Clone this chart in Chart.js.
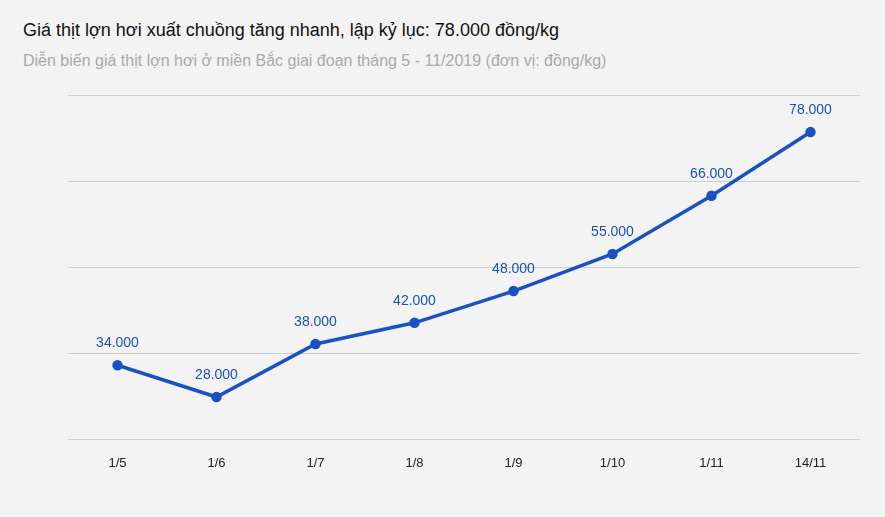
<!DOCTYPE html>
<html><head><meta charset="utf-8">
<script src="https://cdn.jsdelivr.net/npm/chart.js@4"></script>
<style>
html,body{margin:0;padding:0;background:#f3f3f3;font-family:Arial,"Liberation Sans",sans-serif;}
#wrap{position:relative;width:885px;height:517px;}
#t{position:absolute;left:23px;top:20px;font-size:18px;color:#111;}
#s{position:absolute;left:23px;top:52px;font-size:16px;color:#aaa;}
canvas{position:absolute;left:0;top:0;}
</style></head><body>
<div id="wrap">
<div id="t">Giá thịt lợn hơi xuất chuồng tăng nhanh, lập kỷ lục: 78.000 đồng/kg</div>
<div id="s">Diễn biến giá thịt lợn hơi ở miền Bắc giai đoạn tháng 5 - 11/2019 (đơn vị: đồng/kg)</div>
<canvas id="c" width="885" height="517"></canvas>
</div>
<script>
const categories=["1/5","1/6","1/7","1/8","1/9","1/10","1/11","14/11"];
const prices=[34,28,38,42,48,55,66,78];
const priceLabels=["34.000","28.000","38.000","42.000","48.000","55.000","66.000","78.000"];
const labelPlugin={id:'lbl',afterDatasetsDraw(ch){const ctx=ch.ctx;const m=ch.getDatasetMeta(0);ctx.save();ctx.fillStyle='#1a52b8';ctx.font='14px Arial, "Liberation Sans"';ctx.textAlign='center';ctx.textBaseline='alphabetic';m.data.forEach((p,i)=>{ctx.fillText(priceLabels[i],p.x,p.y-18);});ctx.restore();}};
new Chart(document.getElementById('c'),{type:'line',
data:{labels:categories,datasets:[{data:prices,borderColor:'#1a52c4',backgroundColor:'#1a52c4',borderWidth:3.5,pointRadius:3.5,pointBackgroundColor:'#1a52c4',tension:0}]},
options:{responsive:false,animation:false,
layout:{padding:{left:68,right:25,top:95,bottom:38}},
plugins:{legend:{display:false},tooltip:{enabled:false}},
scales:{x:{offset:true,grid:{display:false},border:{display:false},ticks:{color:'#222',font:{size:13,family:'Arial'},padding:8}},
y:{min:20,max:85,afterBuildTicks(a){a.ticks=[20,36.25,52.5,68.75,85].map(v=>({value:v}));},grid:{color:'#cccccc',drawTicks:false},border:{display:false},ticks:{display:false}}}}
,plugins:[labelPlugin]});
</script></body></html>
